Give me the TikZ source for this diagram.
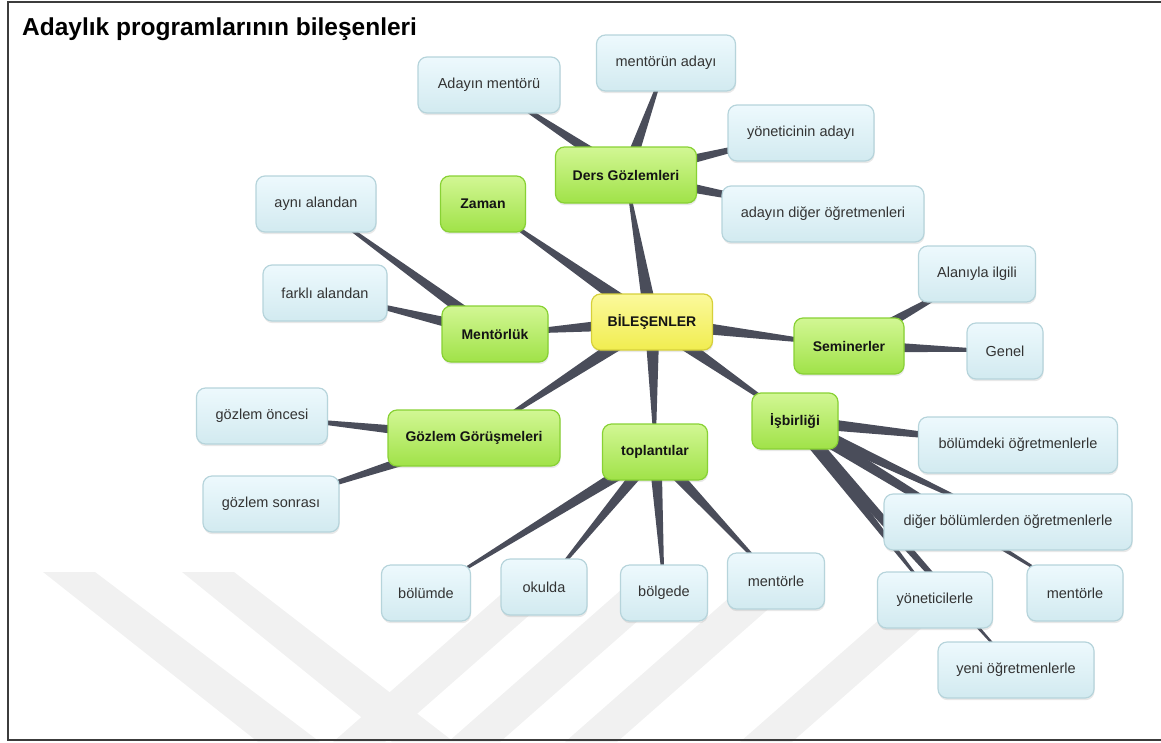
\documentclass[tikz,border=0pt]{standalone}
\usepackage{fontspec}
\setmainfont{Liberation Sans}
\usetikzlibrary{calc,shadows}

\definecolor{spokeCol}{HTML}{4A4D5A}
\definecolor{greenTop}{HTML}{D2F794}
\definecolor{greenBot}{HTML}{A0E248}
\definecolor{greenLine}{HTML}{88D134}
\definecolor{yelTop}{HTML}{FBF99C}
\definecolor{yelBot}{HTML}{F1ED50}
\definecolor{yelLine}{HTML}{D6D03A}
\definecolor{leafTop}{HTML}{EDF9FD}
\definecolor{leafBot}{HTML}{D2EAF0}
\definecolor{leafLine}{HTML}{B6D4DB}
\definecolor{markCol}{HTML}{F1F1F1}
\definecolor{frameCol}{HTML}{3C3C3C}

\pgfdeclarelayer{mark}
\pgfdeclarelayer{spokes}
\pgfsetlayers{mark,spokes,main}

% tapered connector: wide at the parent, narrow at the child
\newcommand\spoke[4][0.5pt]{%
  \fill[spokeCol] ($(#2)!#4!90:(#3)$) -- ($(#3)!#1!-90:(#2)$)
    -- ($(#3)!#1!90:(#2)$) -- ($(#2)!#4!-90:(#3)$) -- cycle;}

\begin{document}
\begin{tikzpicture}[x=1pt,y=-1pt,
  card/.style={rounded corners=9pt, line width=1.2pt, minimum height=56pt,
    inner sep=0pt, align=center,
    drop shadow={opacity=0.18, shadow xshift=0.6pt, shadow yshift=-2.2pt}},
  hub/.style={card, draw=yelLine, top color=yelTop, bottom color=yelBot,
    font=\fontsize{14}{16}\selectfont\bfseries, text=black!92},
  branch/.style={card, draw=greenLine, top color=greenTop, bottom color=greenBot,
    font=\fontsize{14}{16}\selectfont\bfseries, text=black!92},
  leaf/.style={card, draw=leafLine, top color=leafTop, bottom color=leafBot,
    font=\fontsize{14.5}{16}\selectfont, text=black!80},
  band/.style={fill=markCol}]

\useasboundingbox (0,0) rectangle (1161,742);

% background emblem bands
\begin{pgfonlayer}{mark}
  \fill[band] (43,572) -- (95,572) -- (320,742) -- (258,742) -- cycle;
  \fill[band] (182,572) -- (234,572) -- (454,742) -- (392,742) -- cycle;
  \foreach \bx in {333,448,565,740}
    \fill[band] (\bx,742) -- (\bx+52,742) -- (\bx+52+190,575) -- (\bx+190,575) -- cycle;
\end{pgfonlayer}

% frame
\draw[frameCol, line width=1.6pt] (1163,2) -- (8,2) -- (8,740) -- (1163,740);

% title
\node[anchor=base west, font=\fontsize{24.5}{28}\selectfont\bfseries, inner sep=0pt]
  (title) at (22,35) {Adaylık programlarının bileşenleri};

% centre
\node[hub, minimum width=121pt] (root) at (652,322) {BİLEŞENLER};

% main branches
\node[branch, minimum width=141pt] (ders)     at (626,175) {Ders Gözlemleri};
\node[branch, minimum width=85pt]  (zaman)    at (483,204) {Zaman};
\node[branch, minimum width=106pt] (mentor)   at (495,334) {Mentörlük};
\node[branch, minimum width=110pt] (seminer)  at (849,346) {Seminerler};
\node[branch, minimum width=172pt] (gorusme)  at (474,438) {Gözlem Görüşmeleri};
\node[branch, minimum width=105pt] (toplanti) at (655,452) {toplantılar};
\node[branch, minimum width=86pt]  (isbir)    at (795,421) {İşbirliği};

% leaves
\node[leaf, minimum width=142pt] (adayMentor) at (489,85)  {Adayın mentörü};
\node[leaf, minimum width=139pt] (mentorAday) at (666,63)  {mentörün adayı};
\node[leaf, minimum width=146pt] (yonAday)    at (801,133) {yöneticinin adayı};
\node[leaf, minimum width=202pt] (digerOgr)   at (823,214) {adayın diğer öğretmenleri};
\node[leaf, minimum width=120pt] (ayni)       at (316,204) {aynı alandan};
\node[leaf, minimum width=124pt] (farkli)     at (325,293) {farklı alandan};
\node[leaf, minimum width=117pt] (alan)       at (977,274) {Alanıyla ilgili};
\node[leaf, minimum width=76pt]  (genel)      at (1005,351) {Genel};
\node[leaf, minimum width=131pt] (oncesi)     at (262,416) {gözlem öncesi};
\node[leaf, minimum width=136pt] (sonrasi)    at (271,504) {gözlem sonrası};
\node[leaf, minimum width=89pt]  (bolumde)    at (426,593) {bölümde};
\node[leaf, minimum width=86pt]  (okulda)     at (544,587) {okulda};
\node[leaf, minimum width=87pt]  (bolgede)    at (664,593) {bölgede};
\node[leaf, minimum width=97pt]  (tMentor)    at (776,581) {mentörle};
\node[leaf, minimum width=199pt] (bolumdeki)  at (1018,445) {bölümdeki öğretmenlerle};
\node[leaf, minimum width=248pt] (digerBolum) at (1008,522) {diğer bölümlerden öğretmenlerle};
\node[leaf, minimum width=96pt]  (iMentor)    at (1075,593) {mentörle};
\node[leaf, minimum width=115pt] (yonetici)   at (935,600) {yöneticilerle};
\node[leaf, minimum width=156pt] (yeni)       at (1016,670) {yeni öğretmenlerle};

% connectors
\begin{pgfonlayer}{spokes}
  \foreach \c in {ders,zaman,mentor,seminer,gorusme,toplanti,isbir}
    \spoke{root}{\c}{7.5pt};
  \foreach \c in {adayMentor,mentorAday,yonAday,digerOgr}
    \spoke{ders}{\c}{6.5pt};
  \foreach \c in {ayni,farkli}
    \spoke{mentor}{\c}{6.5pt};
  \foreach \c in {alan,genel}
    \spoke{seminer}{\c}{6.5pt};
  \foreach \c in {oncesi,sonrasi}
    \spoke{gorusme}{\c}{6.5pt};
  \foreach \c in {bolumde,okulda,bolgede,tMentor}
    \spoke{toplanti}{\c}{6.5pt};
  \foreach \c in {bolumdeki,digerBolum,iMentor,yonetici,yeni}
    \spoke{isbir}{\c}{6.5pt};
\end{pgfonlayer}
\end{tikzpicture}
\end{document}
